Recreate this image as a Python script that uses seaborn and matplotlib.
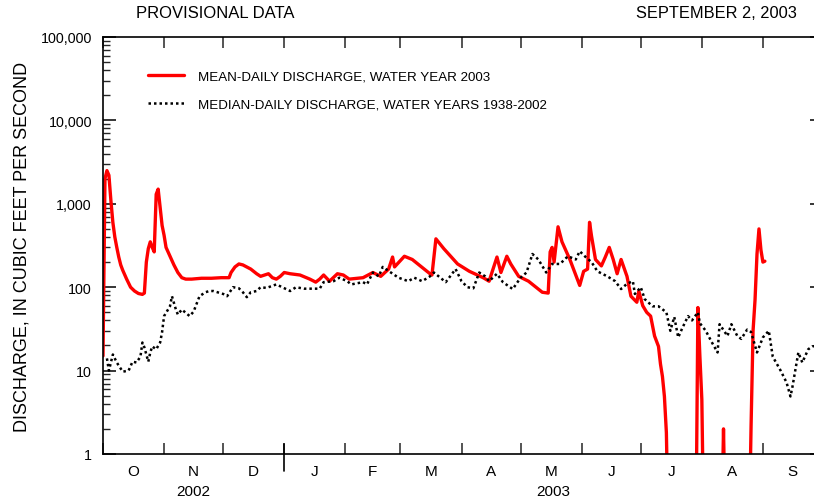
import matplotlib
matplotlib.use("Agg")
import matplotlib.pyplot as plt
import matplotlib.transforms as mtransforms
from matplotlib.ticker import FixedLocator, FuncFormatter, NullFormatter
import seaborn as sns
import pandas as pd

# ---- data (day index from Oct 1, 2002; discharge in cfs) ----
mean_days = [0, 1, 2, 3, 4, 5, 6, 7, 8, 9, 10, 12, 14, 16, 18, 20, 21, 22, 23, 24,
             25, 26, 27, 28, 29, 30, 31, 32, 34, 36, 38, 40, 42, 45, 50, 55, 60, 64,
             65, 67, 69, 71, 73, 75, 78, 80, 82, 84, 86, 88, 90, 92, 95, 100, 105,
             108, 110, 112, 115, 119, 122, 125, 132, 137, 141, 145, 147, 148, 153,
             157, 166, 167, 169, 173, 180, 186, 193, 196, 198, 200, 202, 205, 207,
             211, 216, 223, 226, 227, 228, 229, 231, 233, 237, 242, 244, 246, 247,
             248, 250, 253, 255, 257, 259, 261, 263, 266, 268, 271, 272, 274, 276,
             278, 280, 282, 283, 284, 285, 286, 287, 301, 302, 303, 304, 305, 314,
             315, 316, 328, 329, 330, 331, 332, 333, 334, 335, 336]
mean_vals = [15, 2000, 2500, 2200, 1100, 600, 400, 300, 230, 185, 160, 125, 100, 90, 84, 82, 85, 200, 290, 350,
             300, 265, 1300, 1500, 900, 550, 420, 300, 235, 185, 150, 130, 125, 125, 128, 128, 130, 130,
             150, 175, 190, 185, 175, 165, 145, 135, 140, 145, 130, 125, 135, 150, 145, 140, 125,
             115, 125, 140, 118, 145, 140, 125, 130, 150, 135, 165, 230, 175, 235,
             215, 145, 140, 380, 290, 190, 155, 130, 118, 165, 230, 150, 235, 190,
             135, 118, 87, 85, 265, 300, 200, 530, 350, 215, 105, 155, 165, 600,
             410, 215, 180, 230, 300, 215, 145, 215, 135, 78, 66, 90, 60, 50,
             45, 26, 19.5, 12, 8.5, 4.9, 1.8, 0.1, 0.1, 57, 15, 4.5, 0.1, 0.1,
             2.0, 0.1, 0.1, 2.2, 30, 70, 250, 500, 280, 200, 205]

median_days = [2, 3, 5, 7, 10, 13, 15, 17, 19, 20, 21, 23, 24, 25, 27, 29, 30, 31, 34, 35,
               37, 38, 40, 43, 44, 46, 49, 52, 54, 56, 61, 63, 66, 69, 71, 73, 75, 78, 80,
               83, 88, 91, 95, 98, 102, 110, 112, 117, 120, 124, 126, 132, 134, 137, 140,
               142, 147, 150, 155, 158, 162, 166, 168, 174, 179, 182, 185, 188, 191, 194,
               196, 200, 203, 208, 212, 215, 218, 221, 225, 228, 232, 236, 240, 242, 245,
               248, 251, 256, 260, 263, 266, 269, 270, 273, 275, 279, 282, 286, 288, 290,
               292, 294, 297, 299, 302, 303, 306, 309, 312, 313, 317, 319, 322, 324, 327,
               329, 332, 335, 338, 340, 344, 347, 349, 350, 353, 355, 358, 360, 364]
median_vals = [14, 10, 15.6, 12.5, 9.7, 10, 12.8, 12.5, 14.7, 21.7, 19, 12.8, 16.5, 19.5, 18, 21.7, 29, 45, 59, 78,
               54, 47, 54, 47, 45, 51, 78, 87, 90, 90, 83, 78, 100, 97, 87, 76, 87, 90, 100,
               98, 108, 100, 90, 100, 96, 96, 115, 118, 130, 118, 108, 115, 108, 150, 135,
               175, 145, 130, 118, 130, 118, 135, 150, 115, 165, 118, 100, 97, 150, 135,
               118, 145, 115, 95, 130, 150, 250, 215, 150, 190, 190, 235, 215, 270, 230,
               200, 155, 135, 118, 95, 110, 118, 83, 100, 72, 59, 59, 50, 30, 44,
               25, 32, 45, 40, 50, 37, 30, 22, 16.5, 36, 26, 36, 26, 24, 31,
               29, 16.5, 25, 30, 14.7, 10, 7.2, 4.9, 6.4, 16.5, 12.5, 18, 19.5, 20]

month_starts = [0, 31, 61, 92, 123, 151, 182, 212, 243, 273, 304, 335, 365]
month_labels = ["O", "N", "D", "J", "F", "M", "A", "M", "J", "J", "A", "S"]
year_labels = ["2002", "2003"]
ytick_vals = [1, 10, 100, 1000, 10000, 100000]

mean_label = "MEAN-DAILY DISCHARGE, WATER YEAR 2003"
median_label = "MEDIAN-DAILY DISCHARGE, WATER YEARS 1938-2002"

sns.set_theme(style="white")
plt.rcParams["font.family"] = ["Liberation Sans", "DejaVu Sans"]

W, H = 814, 502
fig = plt.figure(figsize=(W / 100, H / 100), dpi=100)
ax = fig.add_axes([103 / W, (H - 455) / H, 719 / W, 417 / H])

mean_df = pd.DataFrame({"day": mean_days, "q": mean_vals})
median_df = pd.DataFrame({"day": median_days, "q": median_vals})

sns.lineplot(data=mean_df, x="day", y="q", ax=ax, color="#ff0000", lw=2.4,
             label=mean_label, estimator=None)
sns.lineplot(data=median_df, x="day", y="q", ax=ax, color="black", lw=1.8,
             linestyle=(0, (1, 1.2)), label=median_label, estimator=None)

ax.set_yscale("log")
ax.set_ylim(1, 100000)
ax.set_xlim(0, 365)
ax.set_xlabel("")
ax.set_ylabel("")

for s in ax.spines.values():
    s.set_color("black")
    s.set_linewidth(1.2)
    s.set_visible(True)

# y ticks
ax.yaxis.set_major_locator(FixedLocator(ytick_vals))
ax.yaxis.set_major_formatter(FuncFormatter(lambda v, p: f"{int(round(v)):,}"))
minor = [m * 10 ** e for e in range(0, 5) for m in range(2, 10)]
ax.yaxis.set_minor_locator(FixedLocator(minor))
ax.yaxis.set_minor_formatter(NullFormatter())
ax.tick_params(axis="y", which="major", direction="in", length=9, width=1.1,
               left=True, right=True, labelsize=10.3, pad=8, colors="black")
ax.tick_params(axis="y", which="minor", direction="in", length=5, width=1,
               left=True, right=True)

# x ticks: month boundaries (major), month labels at centers (minor)
ax.set_xticks(month_starts)
ax.set_xticklabels([])
centers = [(a + b) / 2 for a, b in zip(month_starts[:-1], month_starts[1:])]
ax.set_xticks(centers, minor=True)
ax.set_xticklabels(month_labels, minor=True)
ax.tick_params(axis="x", which="major", direction="in", length=8, width=1.1,
               top=True, bottom=True)
ax.tick_params(axis="x", which="minor", length=0, labelsize=11, pad=7,
               colors="black", top=False, bottom=True)

# Jan 1 divider crossing the bottom axis
trans = mtransforms.blended_transform_factory(ax.transData, ax.transAxes)
ax.plot([month_starts[3], month_starts[3]], [-0.04, 0.025], transform=trans,
        color="black", lw=1.2, clip_on=False)

# year labels
ax.text((month_starts[0] + month_starts[3]) / 2, -0.088, year_labels[0],
        transform=trans, ha="center", va="center", fontsize=11, color="black")
ax.text((month_starts[3] + month_starts[12]) / 2, -0.088, year_labels[1],
        transform=trans, ha="center", va="center", fontsize=11, color="black")

# legend
leg = ax.legend(loc="upper left", bbox_to_anchor=(0.0626, 0.92), frameon=False,
                fontsize=9.6, handlelength=2.7, handletextpad=1.05,
                labelspacing=1.18, borderpad=0, borderaxespad=0)
for t in leg.get_texts():
    t.set_color("black")

# header texts and y label
fig.text(215 / W, 1 - 14 / H, "PROVISIONAL DATA", ha="center", va="center",
         fontsize=12, color="black")
fig.text(797 / W, 1 - 14 / H, "SEPTEMBER 2, 2003", ha="right", va="center",
         fontsize=11.8, color="black")
fig.text(22 / W, 1 - 247 / H, "DISCHARGE, IN CUBIC FEET PER SECOND", rotation=90,
         ha="center", va="center", fontsize=13, color="black")

fig.savefig("out.png", dpi=100, facecolor="white")
